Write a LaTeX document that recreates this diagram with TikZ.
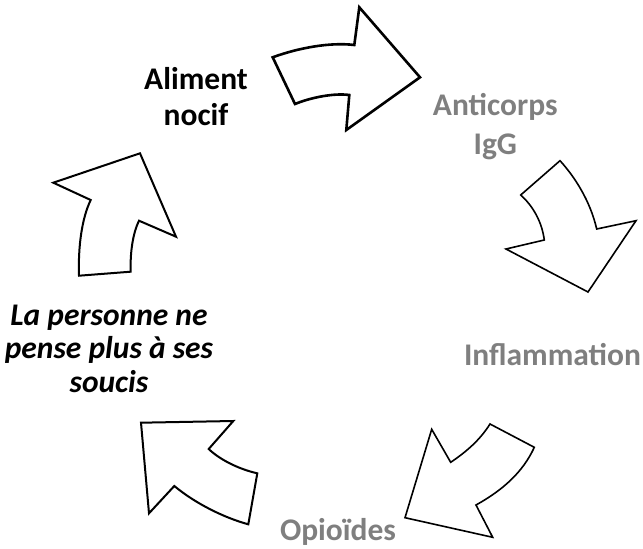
\documentclass[tikz,border=0pt]{standalone}
\usepackage{fontspec}
\setmainfont{Carlito}
\definecolor{txtgray}{HTML}{7F7F7F}
\begin{document}
\begin{tikzpicture}[x=1pt,y=-1pt,
  lbl/.style={font=\fontsize{31.5}{36}\selectfont\bfseries, align=center, anchor=base, inner sep=0pt},
  blk/.style={lbl,text=black},
  gry/.style={lbl,text=txtgray},
  bigarrow/.style={draw=black, fill=white, line join=miter, line width=1.6pt}]
\useasboundingbox (0,0) rectangle (643,549);

% arrow 1 (top)
\draw[bigarrow, line width=2.6pt] (272.7,57.3) .. controls (298,48) and (330,42) .. (354.3,45)
  -- (359.3,7.3) -- (420,77.3) -- (346.3,130) -- (349.3,95)
  .. controls (335,93) and (312,97) .. (295,104) -- cycle;

% arrow 2 (right top)
\draw[bigarrow] (520.7,195) -- (560,160.7) .. controls (574,176) and (590,200) .. (596.7,229)
  -- (636,220.7) -- (588,292) -- (506,249) -- (544.3,240)
  .. controls (542,222) and (533,206) .. cycle;

% arrow 3 (bottom right)
\draw[bigarrow] (490,424) -- (534.3,447.3) .. controls (523,472) and (503,490) .. (476,505)
  -- (492.7,537.3) -- (405,517.7) -- (431.7,429.3) -- (450.7,462.3)
  .. controls (466,452) and (480,440) .. cycle;

% arrow 4 (bottom left)
\draw[bigarrow, line width=2pt] (141,422.7) -- (233.3,421) -- (208.7,449)
  .. controls (219,459) and (238,469) .. (257.3,473.3) -- (248.3,524.3)
  .. controls (225,518) and (196,504) .. (174.3,486) -- (149,513.3) -- cycle;

% arrow 5 (left)
\draw[bigarrow, line width=2pt] (53.3,182.7) -- (140,153.3) -- (176,236.7) -- (139,220.7)
  .. controls (133,233) and (130,252) .. (130.7,271.7) -- (79,275.7)
  .. controls (78,246) and (82,218) .. (90.7,200) -- cycle;

\node[blk] (aliment) at (196,125) {Aliment\\nocif};
\node[gry, font=\fontsize{31.5}{39}\selectfont\bfseries] (anticorps) at (495.3,154) {Anticorps\\IgG};
\node[gry] (inflam) at (552.5,365) {Inflammation};
\node[gry] (opio) at (338,540) {Opioïdes};
\node[blk, font=\fontsize{31.5}{33.5}\selectfont\bfseries\itshape] (personne) at (109,392) {La personne ne\\pense plus à ses\\soucis};
\end{tikzpicture}
\end{document}
